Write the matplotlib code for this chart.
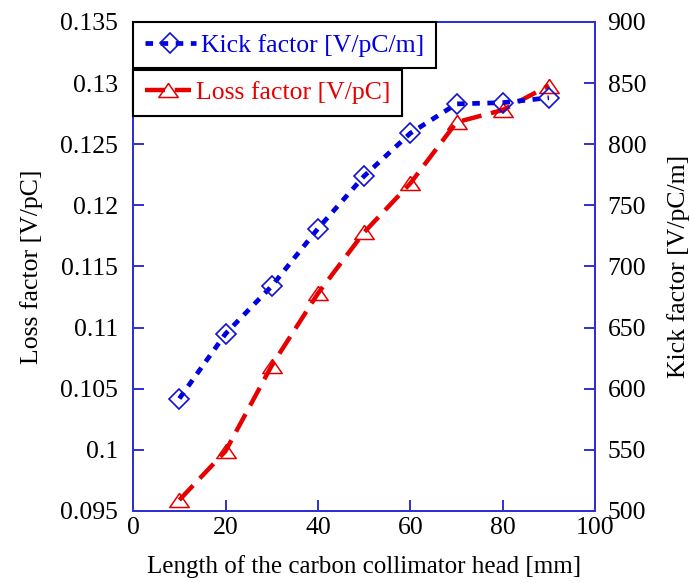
import numpy as np
import matplotlib
matplotlib.use('Agg')
import matplotlib.pyplot as plt

# collimator head length [mm]
length_mm = [10, 20, 30, 40, 50, 60, 70, 80, 90]
# loss factor [V/pC]
loss_factor = [0.0959, 0.0999, 0.1069, 0.1128, 0.1178, 0.1218, 0.1268, 0.1278, 0.1298]
# kick factor [V/pC/m]
kick_factor = [592, 645, 684, 731, 774, 809, 833, 834, 838]

plt.rcParams['font.family'] = ['Liberation Serif', 'DejaVu Serif']

spine_blue = '#2f2fd6'
tri = [(0, 0.72), (-1, -0.72), (1, -0.72), (0, 0.72)]
fs = 18.5

fig = plt.figure(figsize=(6.9, 5.83), dpi=100)
ax = fig.add_axes([0.193, 0.1235, 0.6695, 0.8388])
ax2 = ax.twinx()

l_loss, = ax.plot(length_mm, loss_factor, color='#e80000', lw=3.2,
                  dashes=(4.5, 2.2), marker=tri, markersize=14,
                  markerfacecolor='none', markeredgecolor='#e00000',
                  markeredgewidth=1.1, label='Loss factor [V/pC]')
l_kick, = ax2.plot(length_mm, kick_factor, color='#0000e0', lw=3.4,
                   dashes=(1.6, 1.6), marker='D', markersize=10,
                   markerfacecolor='none', markeredgecolor='#1010d0',
                   markeredgewidth=1.2, label='Kick factor [V/pC/m]')

ax.set_xlim(0, 100)
ax.set_ylim(0.095, 0.135)
ax2.set_ylim(500, 900)
ax.set_xticks([0, 20, 40, 60, 80, 100])
ax.set_yticks([0.095, 0.1, 0.105, 0.11, 0.115, 0.12, 0.125, 0.13, 0.135])
ax.set_yticklabels(['0.095', '0.1', '0.105', '0.11', '0.115', '0.12',
                    '0.125', '0.13', '0.135'])
ax2.set_yticks([500, 550, 600, 650, 700, 750, 800, 850, 900])

for a in (ax, ax2):
    for s in a.spines.values():
        s.set_color(spine_blue)
        s.set_linewidth(1.4)

ax.tick_params(axis='x', direction='in', length=8, width=1.4, color=spine_blue,
               labelsize=fs, pad=4)
ax.tick_params(axis='y', direction='in', length=8, width=1.4, color=spine_blue,
               labelsize=fs, pad=11)
ax2.tick_params(axis='y', direction='in', length=8, width=1.4, color=spine_blue,
                labelsize=fs, pad=9)

ax.set_xlabel('Length of the carbon collimator head [mm]', fontsize=18, labelpad=12)
ax.set_ylabel('Loss factor [V/pC]', fontsize=fs, labelpad=12)
ax2.set_ylabel('Kick factor [V/pC/m]', fontsize=fs, labelpad=15)

leg_opts = dict(loc='upper left', fontsize=18.5, labelcolor='linecolor',
                fancybox=False, edgecolor='black', framealpha=1,
                borderpad=0.45, handletextpad=0.2, borderaxespad=0)
leg1 = ax2.legend(handles=[l_kick], bbox_to_anchor=(0.0, 1.0),
                  handlelength=2.0, **leg_opts)
leg1.get_frame().set_linewidth(1.5)
ax2.add_artist(leg1)
leg2 = ax2.legend(handles=[l_loss], bbox_to_anchor=(0.0, 0.902),
                  handlelength=1.8, **leg_opts)
leg2.get_frame().set_linewidth(1.5)
ax2.add_artist(leg2)

fig.savefig('out.png', dpi=100)
